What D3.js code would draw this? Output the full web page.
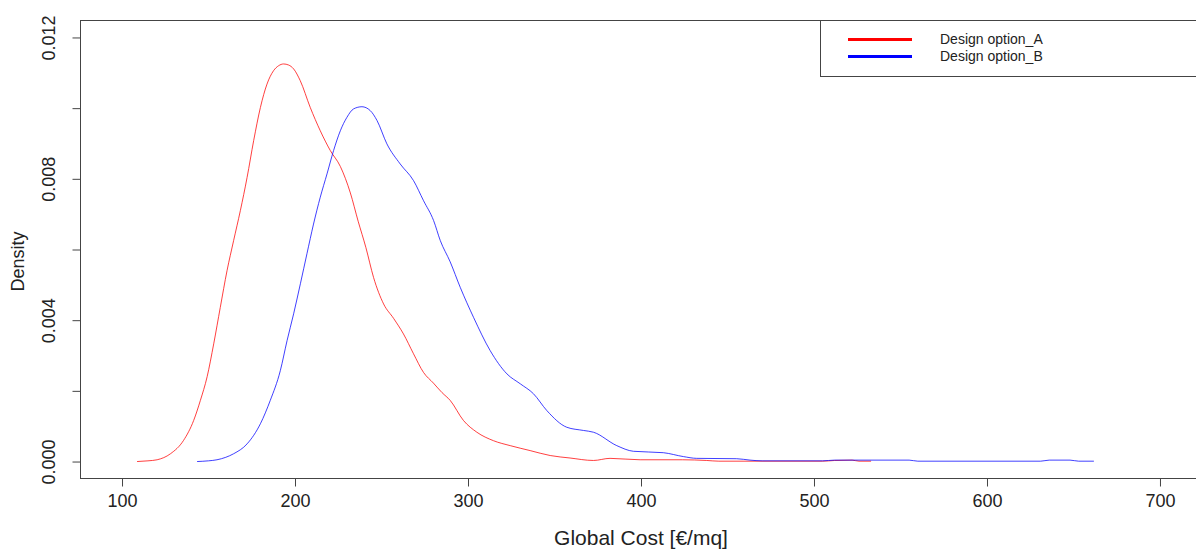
<!DOCTYPE html>
<html>
<head>
<meta charset="utf-8">
<script src="https://cdn.jsdelivr.net/npm/d3@7"></script>
<style>
  body { margin: 0; background: #fff; }
  svg text { font-family: "Liberation Sans", Arial, sans-serif; fill: #222; }
</style>
</head>
<body>
<div id="chart"></div>
<script>
// Density estimates: x = global cost, y = density
const costA = [108.7, 115, 120.3, 128, 135.6, 141.4, 145.3, 149.2, 153, 156.8, 160.7, 164.5, 168.4, 172.3, 176.1, 180,
  183.8, 187.6, 190.5, 193.4, 196.3, 199.2, 203, 208.8, 214.6, 220.4, 226.2, 232, 236.5, 241, 245.4, 251.2, 257,
  262.7, 268.5, 274.3, 280, 285, 289.7, 297.4, 305.1, 314.7, 324.4, 335.9, 347.5, 359, 372.5, 382.1, 399.5, 424,
  438, 445, 505, 512, 522, 526, 533];
const densA = [0, 0.00002, 0.00005, 0.00022, 0.0006, 0.00116, 0.00173, 0.0024, 0.00333, 0.00436, 0.0054, 0.00625,
  0.0071, 0.00804, 0.00908, 0.01002, 0.01068, 0.01106, 0.0112, 0.01125, 0.01122, 0.01111, 0.01078, 0.01002, 0.00936,
  0.0088, 0.00835, 0.0076, 0.0068, 0.00605, 0.00521, 0.00446, 0.00405, 0.00361, 0.00305, 0.00252, 0.00222, 0.00195,
  0.00173, 0.00116, 0.00083, 0.00059, 0.00045, 0.00031, 0.00017, 0.0001, 0.00003, 0.00009, 0.00005, 0.00005,
  0.00003, 0.00001, 0.00001, 0.00003, 0.00004, 0.00001, 0.00001];

const costB = [143.4, 150, 154.9, 160, 164.5, 172.3, 180, 185.7, 191.5, 195.4, 199.2, 203.1, 206.9, 210.7, 214.6,
  218.5, 222.3, 226.2, 230, 233.9, 238.7, 243.5, 247.4, 253.1, 260.8, 268.5, 274.3, 280.1, 284, 289.7, 295.5, 303.2,
  312.8, 322.5, 330.2, 337.8, 345.6, 357.1, 366.7, 372.5, 386, 395.6, 412.9, 424.5, 432.2, 455.3, 463, 470, 505, 512,
  555, 560, 631, 636, 648, 653, 661.8];
const densB = [0, 0.00002, 0.00005, 0.00012, 0.00022, 0.0005, 0.00107, 0.00173, 0.00257, 0.00342, 0.00418, 0.00503,
  0.00588, 0.00672, 0.00748, 0.00814, 0.0088, 0.00936, 0.00974, 0.00998, 0.01004, 0.00993, 0.00965, 0.00899, 0.00842,
  0.00795, 0.00738, 0.00682, 0.00625, 0.00565, 0.00493, 0.00408, 0.00314, 0.00248, 0.0022, 0.00192, 0.00144, 0.00097,
  0.00088, 0.00083, 0.00045, 0.00029, 0.00025, 0.00014, 0.00009, 0.00008, 0.00004, 0.00002, 0.00002, 0.00004,
  0.00004, 0.00001, 0.00001, 0.00004, 0.00004, 0.00001, 0.00001];

const seriesNames = ["Design option_A", "Design option_B"];
const seriesColors = ["#ff0000", "#0000ff"];
const xTicks = [100, 200, 300, 400, 500, 600, 700];
const yTicks = [0, 0.002, 0.004, 0.006, 0.008, 0.01, 0.012];
const yLabelled = [0, 0.004, 0.008, 0.012];

const width = 1196, height = 550;
const plot = { left: 80.5, right: 1201.5, top: 20.5, bottom: 478.5 };

const svg = d3.select("#chart").append("svg")
  .attr("width", width)
  .attr("height", height);

// R-style 4% padding around xlim = c(100,700), ylim = c(0,0.012)
const x = d3.scaleLinear().domain([76, 724]).range([plot.left, plot.right]);
const y = d3.scaleLinear().domain([-0.00048, 0.01248]).range([plot.bottom, plot.top]);

const series = [
  costA.map((c, i) => [c, densA[i]]),
  costB.map((c, i) => [c, densB[i]])
];

const line = d3.line()
  .x((d) => x(d[0]))
  .y((d) => y(d[1]))
  .curve(d3.curveMonotoneX);

svg.selectAll(".curve")
  .data(series)
  .enter()
  .append("path")
  .attr("class", "curve")
  .attr("d", line)
  .attr("fill", "none")
  .attr("stroke", (d, i) => seriesColors[i])
  .attr("stroke-opacity", 0.75)
  .attr("stroke-width", 1);

// axes
const xAxis = svg.append("g")
  .attr("transform", `translate(0,${plot.bottom})`)
  .call(d3.axisBottom(x).tickValues(xTicks).tickSize(8).tickPadding(8).tickFormat(d3.format("d")));

const yAxis = svg.append("g")
  .attr("transform", `translate(${plot.left},0)`)
  .call(d3.axisLeft(y).tickValues(yTicks).tickSize(8).tickFormat((d) =>
    yLabelled.some((v) => Math.abs(v - d) < 1e-9) ? d3.format(".3f")(d) : ""));

[xAxis, yAxis].forEach((g) => {
  g.select(".domain").remove();
  g.selectAll(".tick line").attr("stroke", "#444");
  g.selectAll(".tick text").attr("font-size", 18).style("fill", "#222");
});

yAxis.selectAll(".tick text")
  .attr("x", null)
  .attr("dy", null)
  .attr("text-anchor", "middle")
  .attr("transform", "translate(-26,0) rotate(-90)");

// box
svg.append("rect")
  .attr("x", plot.left)
  .attr("y", plot.top)
  .attr("width", plot.right - plot.left)
  .attr("height", plot.bottom - plot.top)
  .attr("fill", "none")
  .attr("stroke", "#444");

// axis titles
svg.append("text")
  .attr("x", (plot.left + plot.right) / 2)
  .attr("y", 545)
  .attr("text-anchor", "middle")
  .attr("font-size", 21)
  .text("Global Cost [€/mq]");

svg.append("text")
  .attr("transform", `translate(24,${(plot.top + plot.bottom) / 2 + 12}) rotate(-90)`)
  .attr("text-anchor", "middle")
  .attr("font-size", 18)
  .text("Density");

// legend
const legend = svg.append("g");
legend.append("rect")
  .attr("x", 820.5)
  .attr("y", plot.top)
  .attr("width", 400)
  .attr("height", 56)
  .attr("fill", "#fff")
  .attr("stroke", "#444");

const item = legend.selectAll(".legend-item")
  .data(seriesNames)
  .enter()
  .append("g")
  .attr("class", "legend-item")
  .attr("transform", (d, i) => `translate(0,${39.5 + i * 17})`);

item.append("line")
  .attr("x1", 848)
  .attr("x2", 912)
  .attr("stroke", (d, i) => seriesColors[i])
  .attr("stroke-width", 3);

item.append("text")
  .attr("x", 940)
  .attr("dy", "0.35em")
  .attr("font-size", 14)
  .text((d) => d);
</script>
</body>
</html>
